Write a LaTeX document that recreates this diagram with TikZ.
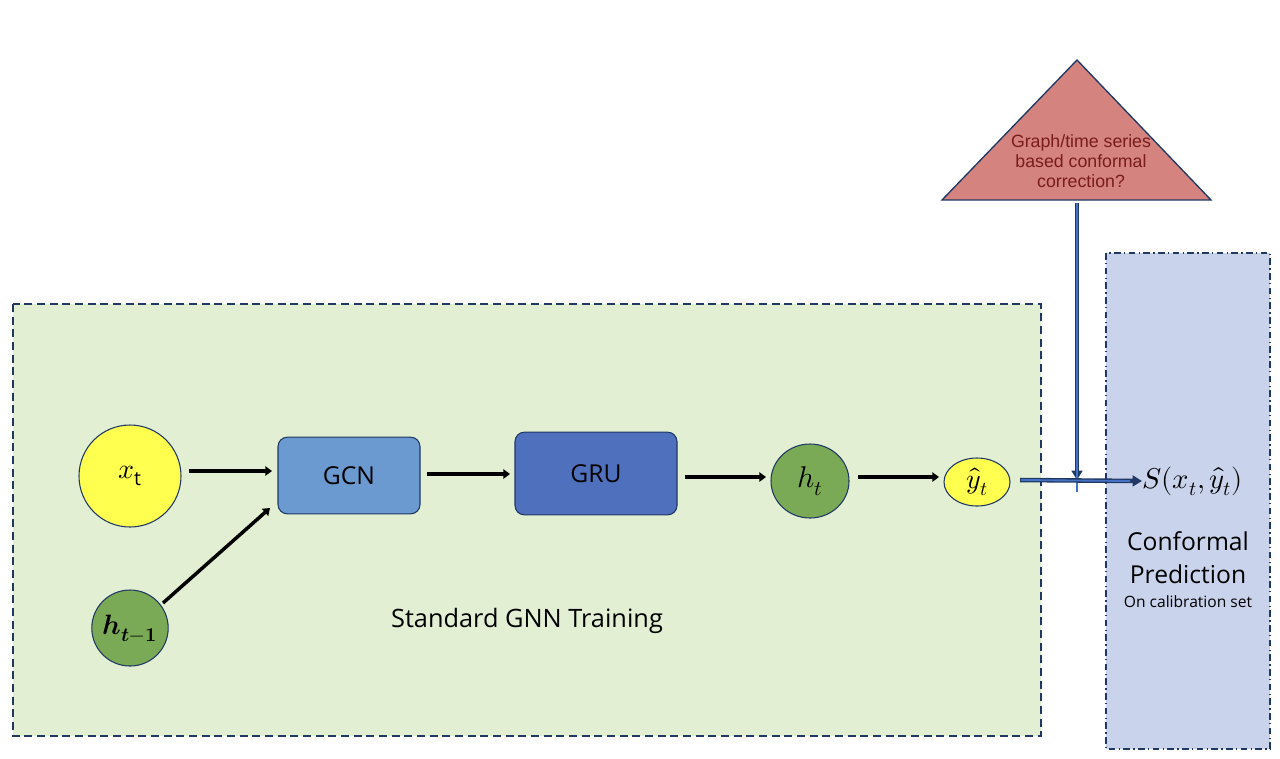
\documentclass[tikz,border=0pt]{standalone}
\usepackage{fontspec}
\usepackage{unicode-math}
\setmathfont{Latin Modern Math}
\setmainfont{Open Sans}
\newfontfamily\arialfont{Liberation Sans}
\usetikzlibrary{arrows.meta,shapes.geometric}
\definecolor{navy}{HTML}{203864}
\definecolor{bggreen}{HTML}{E2EFD2}
\definecolor{bgblue}{HTML}{C9D3EB}
\definecolor{trifill}{HTML}{D4837F}
\definecolor{tritext}{HTML}{7A1C1C}
\definecolor{yel}{HTML}{FFFF50}
\definecolor{grn}{HTML}{7AAA55}
\definecolor{gcnc}{HTML}{6A9AD0}
\definecolor{gruc}{HTML}{4F70BD}
\definecolor{arrowblue}{HTML}{4472C4}
\tikzset{
  blackarrow/.style={line width=2.6pt, black, -{Triangle[length=5pt,width=7pt]}},
  circ/.style={ellipse, draw=navy, line width=0.8pt, inner sep=0pt, font=\fontsize{21}{24}\selectfont},
  boxnode/.style={draw=navy, line width=0.8pt, rounded corners=7pt, font=\fontsize{18.5}{22}\selectfont},
  outerblue/.style={line width=3.4pt, navy, -{Triangle[length=7pt,width=8pt]}},
  innerblue/.style={line width=1.4pt, arrowblue},
}
\begin{document}
\begin{tikzpicture}[x=0.75pt,y=-0.75pt]
\useasboundingbox (0,0) rectangle (1280,758);
% background boxes
\draw[fill=bggreen, draw=navy, line width=1pt, dash pattern=on 6pt off 3.5pt] (13,304) rectangle (1041,736);
\draw[fill=bgblue, draw=navy, line width=1pt, dash pattern=on 5pt off 2.5pt on 1pt off 2.5pt] (1106,253) rectangle (1270,749);
% triangle
\draw[fill=trifill, draw=navy, line width=1pt] (1077,60) -- (1211,200) -- (942,200) -- cycle;
\node[align=center, text=tritext, font=\arialfont\fontsize{13.3}{15}\selectfont] (tri) at (1081,161) {Graph/time series\\based conformal\\correction?};
\coordinate (tribase) at (1077,203);
% nodes
\node[circ, fill=yel, minimum width=76.5pt, minimum height=76.5pt] (xt) at (130,476) {$x_{\mathrm{t}}$};
\node[circ, fill=grn, minimum width=57pt, minimum height=57pt] (htm) at (130,628) {$\symbfit{h}_{\symbfit{t}\symbf{-1}}$};
\node[boxnode, fill=gcnc, minimum width=106.5pt, minimum height=57.5pt] (gcn) at (349,475.5) {GCN};
\node[boxnode, fill=gruc, minimum width=121.5pt, minimum height=62pt] (gru) at (596,473.5) {GRU};
\node[circ, fill=grn, minimum width=58.5pt, minimum height=55.5pt, font=\fontsize{22.5}{26}\selectfont] (ht) at (810,481) {$h_t$};
\node[circ, fill=yel, minimum width=49.5pt, minimum height=36pt] (yh) at (977,482) {$\hat{y}_t$};
\node[anchor=west, inner sep=0pt, font=\fontsize{21.5}{25}\selectfont] (S) at (1142,481) {$S(x_t,\hat{y}_t)$};
\coordinate (join) at (1077,480);
% labels
\node[font=\fontsize{19}{22}\selectfont] (std) at (527,621) {Standard GNN Training};
\node[align=center, font=\fontsize{18.5}{25}\selectfont] (cp) at (1188,558) {Conformal\\Prediction};
\node[font=\fontsize{11.7}{13}\selectfont] (cal) at (1188,602) {On calibration set};
% black arrows
\draw[blackarrow] (189,471) -- (272,471);
\draw[blackarrow] (163,603) -- (270,508);
\draw[blackarrow] (427,474) -- (510,474);
\draw[blackarrow] (685,477) -- (766,477);
\draw[blackarrow] (858,477) -- (939,477);
% blue arrows
\draw[outerblue] (tribase) -- (join);
\draw[innerblue] (tribase) -- ([yshift=-9]join);
\draw[outerblue] (1020,480) -- (S.west);
\draw[innerblue] (1021,480) -- ([xshift=-9]S.west);
\end{tikzpicture}
\end{document}
